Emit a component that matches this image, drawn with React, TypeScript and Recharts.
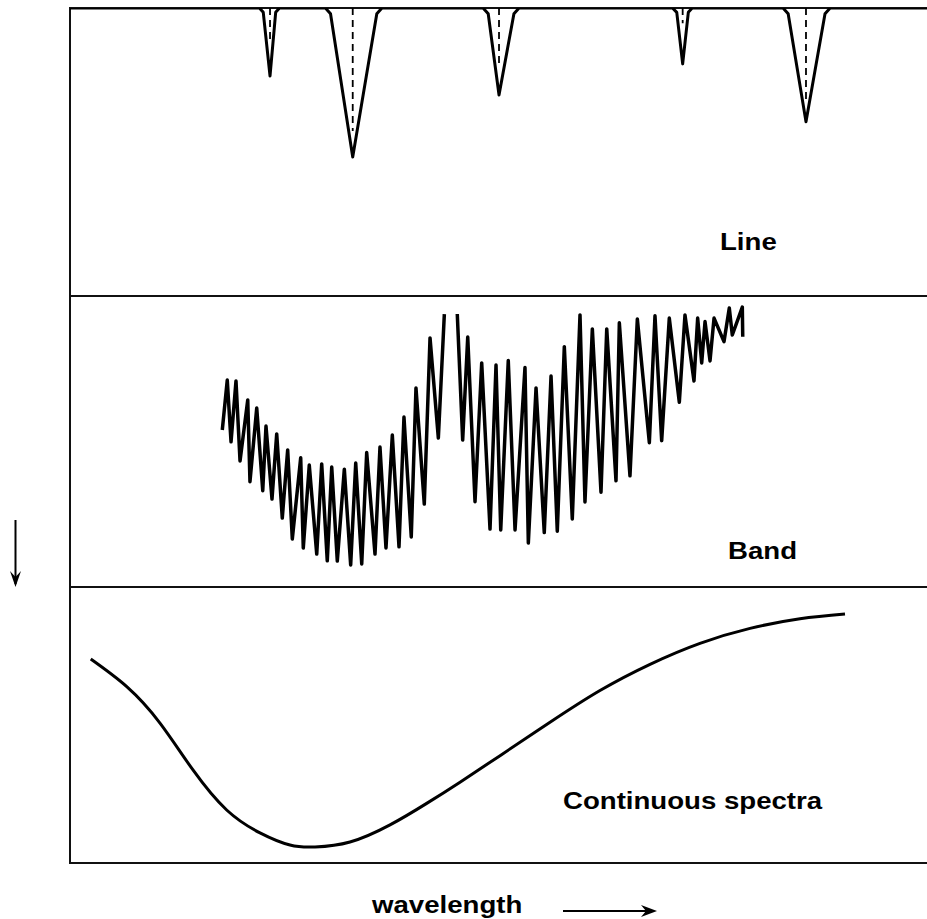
import React from "react";
import { LineChart, Line, XAxis, YAxis } from "recharts";

// Line spectrum (absorption lines hanging from the baseline), x: relative wavelength 0-100, y: transmittance 0-100
const lineX = [0, 22.1, 22.55, 23.34, 24.0, 24.45, 29.8, 30.4, 32.99, 35.8, 36.4, 48.2, 48.8, 50.06, 51.8, 52.4, 70.3, 70.8, 71.49, 72.15, 72.6, 83.2, 83.8, 85.88, 88.1, 88.7, 100];
const lineY = [100, 100, 98.5, 76.4, 98.5, 100, 100, 98, 48.3, 98, 100, 100, 98, 69.8, 98, 100, 100, 98.5, 80.6, 98.5, 100, 100, 98, 60.5, 98, 100, 100];
// centre (dashed) markers of each absorption line
const lineCenters = [23.34, 32.99, 50.06, 71.49, 85.88];
const lineDashEnds = [87.8, 57.3, 79.6, 94.7, 68.0];

// Band spectrum (two segments, null = gap)
const bandX = [
  17.77, 18.35, 18.79, 19.37, 19.84, 20.74, 21.0, 21.79, 22.49, 22.87, 23.57, 24.12, 24.77, 25.4, 25.94, 26.92, 27.22, 27.92, 28.79, 29.37,
  30.02, 30.54, 31.19, 32.01, 32.75, 33.34, 34.04, 34.62, 35.59, 36.17, 36.87, 37.61, 38.39, 38.97, 39.82, 40.37, 41.34, 42.01, 42.98, 43.68,
  44.4,
  45.19, 45.82, 46.41, 47.26, 48.04, 49.01, 49.71, 50.26, 51.14, 51.93, 53.09, 53.48, 54.38, 55.34, 56.13, 56.86, 57.68, 58.61, 59.51, 60.09,
  60.95, 61.96, 62.63, 63.71, 64.1, 65.34, 66.2, 67.6, 68.26, 69.04, 69.93, 71.1, 71.76, 72.81, 73.24, 73.71, 74.1, 74.68, 75.15, 76.31,
  76.93, 77.28, 78.45, 78.5,
];
const bandY = [
  53.95, 71.1, 49.9, 70.8, 43.3, 64.3, 36.2, 61.5, 33.1, 55.3, 30.2, 52.6, 23.7, 47.1, 16.5, 44.4, 13.4, 41.9, 11.3, 42.3,
  9.0, 41.2, 8.9, 40.5, 7.6, 42.6, 7.9, 46.2, 11.3, 48.1, 13.4, 52.2, 13.8, 58.4, 17.2, 68.4, 28.5, 85.6, 51.2, 93.8,
  null,
  93.8, 50.5, 85.9, 29.3, 77.0, 19.9, 76.3, 19.6, 77.8, 19.6, 75.4, 15.1, 68.4, 18.7, 72.5, 19.2, 82.6, 23.4, 93.5, 29.2,
  88.7, 32.6, 88.7, 36.5, 90.8, 38.2, 92.1, 49.6, 93.2, 50.3, 92.4, 63.5, 93.5, 70.8, 92.4, 77.0, 91.2, 77.7, 92.4, 84.3,
  95.9, 86.6, 96.2, 86.0,
];

// Continuous spectrum
const contX = [2.42, 6.62, 10.5, 14.35, 18.28, 22.17, 25.67, 28.59, 32.67, 37.34, 41.62, 45.51, 50.18, 56.01, 61.84, 67.68, 73.51, 79.35, 85.18, 90.43];
const contY = [73.9, 63.9, 50.7, 33.7, 19.2, 10.9, 6.5, 5.8, 7.6, 13.8, 21.6, 29.3, 38.9, 51.0, 62.5, 72.0, 79.6, 85.0, 88.5, 90.2];

const lineData = lineX.map((x, i) => ({ x, y: lineY[i] }));
const bandData = bandX.map((x, i) => ({ x, y: bandY[i] }));
const contData = contX.map((x, i) => ({ x, y: contY[i] }));

const W = 857;
const LEFT = 70;

const labelStyle: React.CSSProperties = {
  position: "absolute",
  fontFamily: "'Liberation Sans', Arial, sans-serif",
  fontWeight: 700,
  fontSize: 23,
  lineHeight: "23px",
  color: "#000",
  whiteSpace: "nowrap",
  transform: "scaleX(1.2)",
  transformOrigin: "left center",
};

function Panel({ top, height, children }: { top: number; height: number; children: React.ReactNode }) {
  return (
    <div style={{ position: "absolute", left: LEFT, top, width: W, height }}>
      <LineChart width={W} height={height} margin={{ top: 0, right: 0, bottom: 0, left: 0 }} data={[]}>
        <XAxis dataKey="x" type="number" domain={[0, 100]} hide allowDataOverflow />
        <YAxis type="number" domain={[0, 100]} hide allowDataOverflow />
        {children}
      </LineChart>
    </div>
  );
}

export default function App() {
  const hline = (top: number) => (
    <div style={{ position: "absolute", left: LEFT - 1, top: top - 1, width: 927 - LEFT + 1, height: 2, background: "#111" }} />
  );
  return (
    <div style={{ position: "absolute", left: 0, top: 0, width: 927, height: 919, background: "#fff", overflow: "hidden" }}>
      {hline(8)}
      {hline(296)}
      {hline(587)}
      {hline(863)}
      <div style={{ position: "absolute", left: LEFT - 1, top: 7, width: 2, height: 857, background: "#111" }} />

      <Panel top={8} height={288}>
        <Line data={lineData} dataKey="y" stroke="#000" strokeWidth={3} dot={false} strokeLinejoin="round" isAnimationActive={false} />
        {lineCenters.map((c, i) => (
          <Line
            key={i}
            data={[{ x: c, y: 100 }, { x: c, y: lineDashEnds[i] }]}
            dataKey="y"
            stroke="#000"
            strokeWidth={1.8}
            strokeDasharray="7 5"
            dot={false}
            isAnimationActive={false}
          />
        ))}
      </Panel>

      <Panel top={296} height={291}>
        <Line data={bandData} dataKey="y" stroke="#000" strokeWidth={3.5} dot={false} connectNulls={false} strokeLinejoin="round" isAnimationActive={false} />
      </Panel>

      <Panel top={587} height={276}>
        <Line data={contData} dataKey="y" type="natural" stroke="#000" strokeWidth={3} dot={false} isAnimationActive={false} />
      </Panel>

      <div style={{ ...labelStyle, left: 720, top: 231 }}>Line</div>
      <div style={{ ...labelStyle, left: 728, top: 540 }}>Band</div>
      <div style={{ ...labelStyle, left: 563, top: 790 }}>Continuous spectra</div>
      <div style={{ ...labelStyle, left: 372, top: 894 }}>wavelength</div>

      <svg style={{ position: "absolute", left: 0, top: 0 }} width={927} height={919}>
        <line x1={15.5} y1={520} x2={15.5} y2={584} stroke="#000" strokeWidth={2} />
        <path d="M10 571 L15.5 587 L21 571 L15.5 577 Z" fill="#000" />
        <line x1={563} y1={911} x2={652} y2={911} stroke="#000" strokeWidth={2} />
        <path d="M641 905 L657 911 L641 917 L646 911 Z" fill="#000" />
      </svg>
    </div>
  );
}
